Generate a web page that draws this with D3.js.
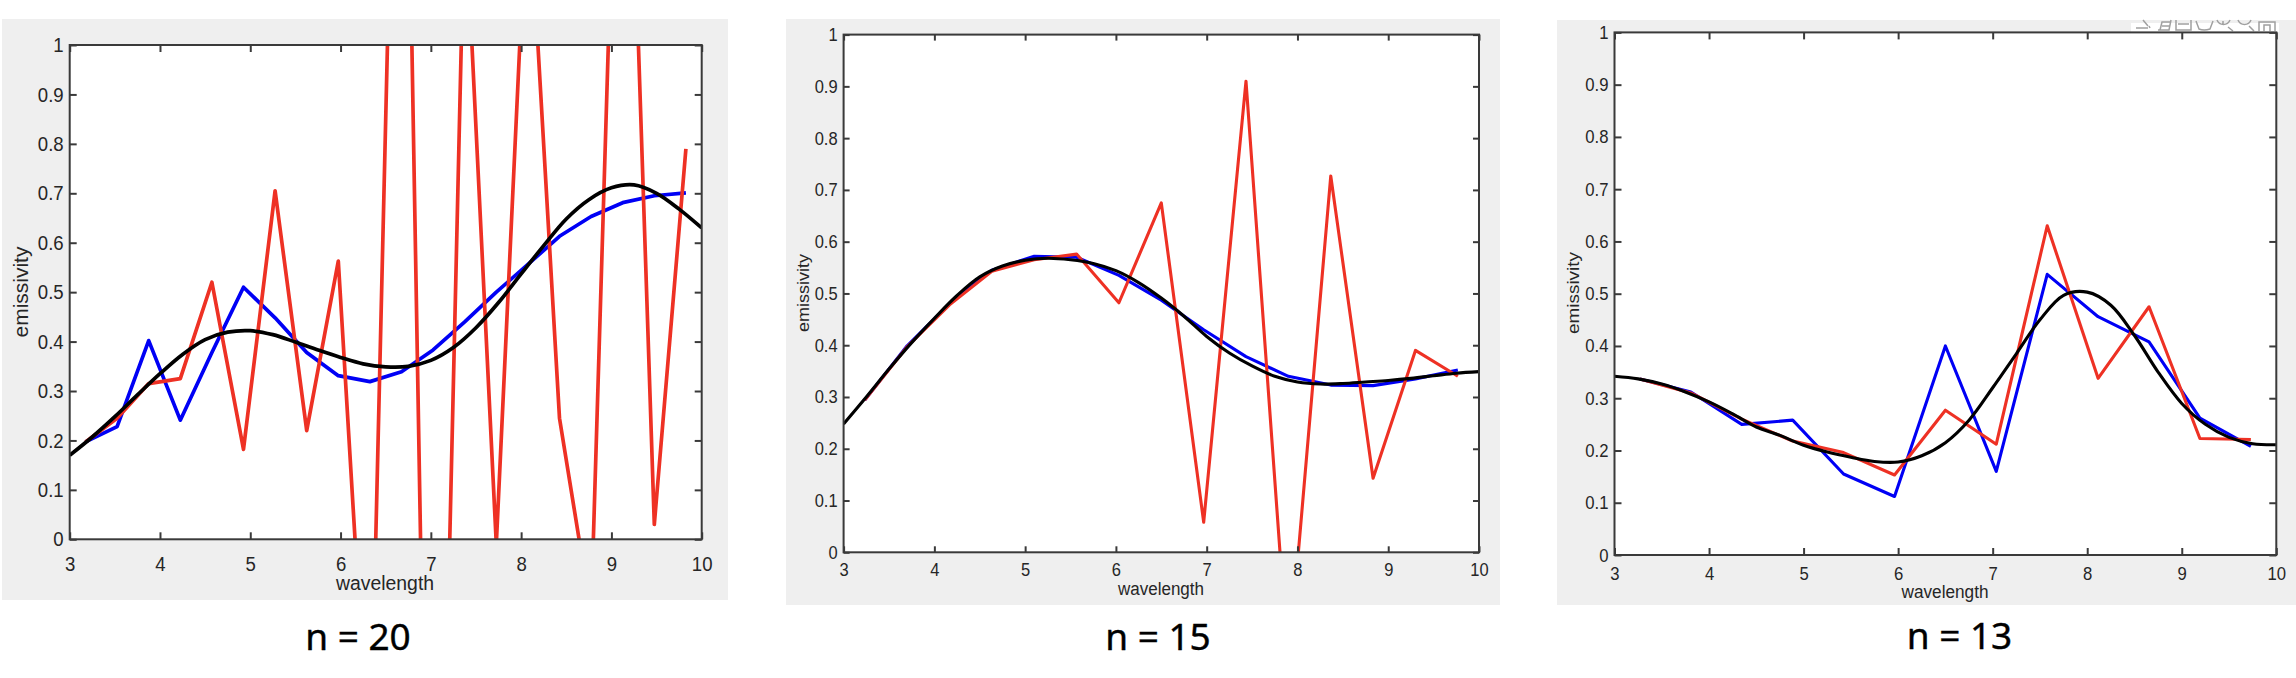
<!DOCTYPE html>
<html><head><meta charset="utf-8">
<script src="https://cdn.jsdelivr.net/npm/d3@7/dist/d3.min.js"></script>
<style>html,body{margin:0;padding:0;background:#fff}svg{display:block}</style>
</head><body>
<svg id="c" width="2296" height="678"></svg>
<script>
// ---- data ----
const xTicks = [3,4,5,6,7,8,9,10];
const yTicks = [0,0.1,0.2,0.3,0.4,0.5,0.6,0.7,0.8,0.9,1];
const xLabel = "wavelength";
const yLabel = "emissivity";
const captions = ["n = 20","n = 15","n = 13"];

const x20 = [3.175,3.525,3.875,4.225,4.575,4.925,5.275,5.625,5.975,6.325,6.675,7.025,7.375,7.725,8.075,8.425,8.775,9.125,9.475,9.825];
const blue20 = [0.197,0.228,0.402,0.241,0.378,0.51,0.448,0.378,0.331,0.319,0.339,0.383,0.44,0.5,0.556,0.613,0.653,0.681,0.695,0.701];
const red20 = [0.197,0.245,0.315,0.325,0.52,0.182,0.705,0.22,0.563,-0.5,2.2,-1.45,1.3,-0.01,1.35,0.245,-0.15,1.96,0.03,0.79];

const x15 = [3.233,3.7,4.167,4.633,5.1,5.567,6.033,6.5,6.967,7.433,7.9,8.367,8.833,9.3,9.767];
const blue15 = [0.294,0.399,0.48,0.545,0.572,0.57,0.535,0.487,0.43,0.378,0.34,0.323,0.322,0.335,0.352];
const red15 = [0.294,0.397,0.478,0.543,0.565,0.576,0.482,0.675,0.058,0.91,-0.224,0.727,0.143,0.39,0.34];

const x13 = [3.269,3.808,4.346,4.885,5.423,5.962,6.5,7.038,7.577,8.115,8.654,9.192,9.731];
const blue13 = [0.337,0.312,0.25,0.258,0.155,0.112,0.4,0.16,0.537,0.456,0.408,0.262,0.208];
const red13 = [0.337,0.31,0.26,0.218,0.196,0.153,0.277,0.212,0.63,0.338,0.475,0.223,0.221];

const xSmooth = [3,3.25,3.5,3.75,4,4.25,4.5,4.75,5,5.25,5.5,5.75,6,6.25,6.5,6.75,7,7.25,7.5,7.75,8,8.25,8.5,8.75,9,9.25,9.5,9.75,10];
const black20 = [0.17,0.207,0.248,0.292,0.335,0.374,0.404,0.419,0.422,0.414,0.399,0.383,0.368,0.355,0.349,0.35,0.362,0.388,0.428,0.479,0.537,0.594,0.648,0.687,0.711,0.717,0.7,0.668,0.63];
const black15 = [0.248,0.3,0.354,0.405,0.452,0.496,0.532,0.553,0.564,0.568,0.565,0.558,0.544,0.521,0.491,0.456,0.417,0.385,0.36,0.34,0.329,0.325,0.326,0.329,0.332,0.336,0.341,0.346,0.349];
const black13 = [0.342,0.337,0.327,0.312,0.293,0.27,0.245,0.229,0.21,0.197,0.187,0.179,0.178,0.19,0.215,0.258,0.32,0.385,0.45,0.497,0.503,0.478,0.42,0.35,0.29,0.25,0.225,0.213,0.211];

// ---- layout ----
const panels = [
 {xs:x20,blue:blue20,red:red20,black:black20,cap:captions[0],bg:[2,19,726,581],plot:[69.7,45,701.7,539.3],fs:18.6,stretch:1.08,lw:3.7,labelFs:19.4,xl:[385,590],yl:[28,292],capPos:[358,650],xTickDy:32,tick:7},
 {xs:x15,blue:blue15,red:red15,black:black15,cap:captions[1],bg:[786,19,714,586],plot:[843.6,34.6,1479,552.3],fs:16.5,stretch:1.06,lw:3.1,labelFs:17,xl:[1161,595],yl:[809,293],capPos:[1158,650],xTickDy:24,tick:6},
 {xs:x13,blue:blue13,red:red13,black:black13,cap:captions[2],bg:[1557,20,739,585],plot:[1614.5,32.4,2276.3,555],fs:16.7,stretch:1.1,lw:3.1,labelFs:17.2,xl:[1945,598],yl:[1578.6,293],capPos:[1959.5,649],xTickDy:25,tick:7}
];

const svg = d3.select("#c");
const FONT = "'Liberation Sans',Arial,sans-serif";
const INK = "#262626", BOX = "#3a3a3a";

panels.forEach((p,i)=>{
  const [l,t,r,b] = p.plot;
  const sx = d3.scaleLinear().domain([3,10]).range([l,r]);
  const sy = d3.scaleLinear().domain([0,1]).range([b,t]);
  const g = svg.append("g");
  g.append("rect").attr("x",p.bg[0]).attr("y",p.bg[1]).attr("width",p.bg[2]).attr("height",p.bg[3]).attr("fill","#efefef");

  if(i===2){ // figure toolbar remnants, cut off by the crop at the top
    g.append("rect").attr("x",2131).attr("y",23).attr("width",148).attr("height",9).attr("fill","#fff");
    const tb = g.append("g").attr("fill","none").attr("stroke","#a0a0a0").attr("stroke-width",1.5);
    tb.append("path").attr("d","M2136 28 L2148 28 M2143 20 L2148 26 M2150 28 L2149 26");
    tb.append("path").attr("d","M2158 30 L2169 30 L2171 20 M2160 30 L2162 22 L2170 22 M2162 26 L2170 26");
    tb.append("path").attr("d","M2176 20 L2176 30 L2191 30 L2191 20 M2178 24 L2189 24");
    tb.append("path").attr("d","M2196 21 L2199 29 Q2204 31 2210 29 L2213 21");
    tb.append("path").attr("d","M2217 20 A7 7 0 0 0 2230 20 M2223 21 L2223 25 M2228 27 L2233 31");
    tb.append("path").attr("d","M2238 20 A7 7 0 0 0 2251 20 M2249 26 L2254 31");
    tb.append("path").attr("d","M2259 31 L2259 22 L2275 22 L2275 31 M2264 31 L2264 25 L2270 25 L2270 31");
  }
  g.append("rect").attr("x",l).attr("y",t).attr("width",r-l).attr("height",b-t).attr("fill","#fff");

  const clipId = "clip"+i;
  svg.append("clipPath").attr("id",clipId).append("rect").attr("x",l).attr("y",t).attr("width",r-l).attr("height",b-t);
  const marks = g.append("g").attr("clip-path",`url(#${clipId})`).attr("fill","none").attr("stroke-linejoin","round");
  const line = d3.line().x(d=>sx(d[0])).y(d=>sy(d[1]));
  marks.append("path").attr("d",line(p.xs.map((x,k)=>[x,p.blue[k]]))).attr("stroke","#0000f5").attr("stroke-width",p.lw);
  marks.append("path").attr("d",line(p.xs.map((x,k)=>[x,p.red[k]]))).attr("stroke","#ee3124").attr("stroke-width",p.lw);
  const smooth = d3.line().x(d=>sx(d[0])).y(d=>sy(d[1])).curve(d3.curveCatmullRom);
  marks.append("path").attr("d",smooth(xSmooth.map((x,k)=>[x,p.black[k]]))).attr("stroke","#000").attr("stroke-width",p.lw);

  // axes: inward ticks on all four sides, labels on left and bottom
  const styleAxis = s=>{ s.select(".domain").remove(); s.selectAll("line").attr("stroke",BOX).attr("stroke-width",2); };
  const fmt = d=>String(d);
  const bottom = g.append("g").attr("transform",`translate(0,${b})`)
    .call(d3.axisBottom(sx).tickValues(xTicks).tickFormat(fmt).tickSizeInner(-p.tick).tickSizeOuter(0)).call(styleAxis);
  bottom.selectAll("text").attr("font-family",FONT).attr("font-size",p.fs).attr("fill",INK)
    .attr("dy",0).attr("y",p.xTickDy/p.stretch).attr("transform",`scale(1,${p.stretch})`);
  const left = g.append("g").attr("transform",`translate(${l},0)`)
    .call(d3.axisLeft(sy).tickValues(yTicks).tickFormat(fmt).tickSizeInner(-p.tick).tickSizeOuter(0)).call(styleAxis);
  left.selectAll("text").attr("font-family",FONT).attr("font-size",p.fs).attr("fill",INK)
    .attr("x",-6).attr("dy",0).attr("y",(p.fs*0.36)/p.stretch).attr("transform",`scale(1,${p.stretch})`);
  g.append("g").attr("transform",`translate(0,${t})`)
    .call(d3.axisTop(sx).tickValues(xTicks).tickFormat("").tickSizeInner(-p.tick).tickSizeOuter(0)).call(styleAxis);
  g.append("g").attr("transform",`translate(${r},0)`)
    .call(d3.axisRight(sy).tickValues(yTicks).tickFormat("").tickSizeInner(-p.tick).tickSizeOuter(0)).call(styleAxis);
  g.append("rect").attr("x",l).attr("y",t).attr("width",r-l).attr("height",b-t).attr("fill","none").attr("stroke",BOX).attr("stroke-width",2);

  g.append("text").text(xLabel).attr("text-anchor","middle").attr("font-family",FONT).attr("font-size",p.labelFs).attr("fill",INK)
    .attr("transform",`translate(${p.xl[0]},${p.xl[1]}) scale(1,${p.stretch})`);
  g.append("text").text(yLabel).attr("text-anchor","middle").attr("font-family",FONT).attr("font-size",p.labelFs).attr("fill",INK)
    .attr("transform",`translate(${p.yl[0]},${p.yl[1]}) rotate(-90) scale(${p.stretch},1)`);
  g.append("text").text(p.cap).attr("text-anchor","middle").attr("font-family","'Noto Sans',sans-serif").attr("font-size",37).attr("fill","#000")
    .attr("stroke","#000").attr("stroke-width",0.4)
    .attr("x",p.capPos[0]).attr("y",p.capPos[1]);
});
</script>
</body></html>
